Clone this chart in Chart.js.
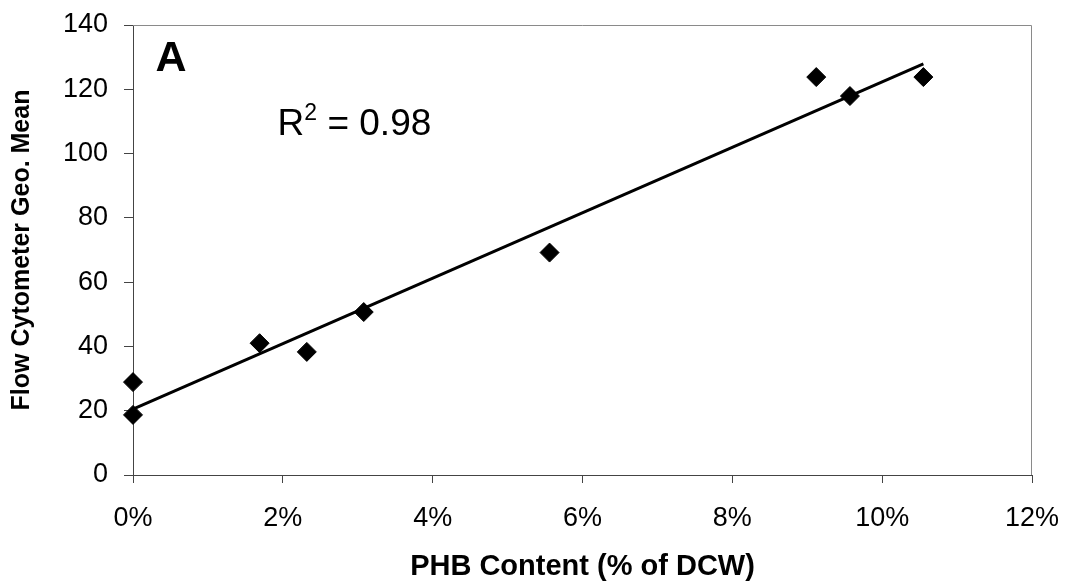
<!DOCTYPE html>
<html>
<head>
<meta charset="utf-8">
<script src="https://cdn.jsdelivr.net/npm/chart.js@4/dist/chart.umd.min.js"></script>
<style>
  html, body { margin: 0; padding: 0; background: #fff; }
  #wrap { width: 1065px; height: 584px; }
</style>
</head>
<body>
<div id="wrap"><canvas id="chart"></canvas></div>
<script>
// PHB content (% of DCW) vs flow cytometer geometric mean, panel A

const phbPct  = [0, 0, 1.69, 2.32, 3.08, 5.56, 9.12, 9.57, 10.55];
const geoMean = [18.7, 28.9, 41.0, 38.3, 50.7, 69.2, 123.8, 117.9, 123.8];

// trendline ends
const trendX = [0, 10.55];
const trendY = [20.5, 127.9];

const xTicks = [0, 2, 4, 6, 8, 10, 12];
const yTicks = [0, 20, 40, 60, 80, 100, 120, 140];

const panelLabel = "A";
const r2Text = "0.98";

const FONT = "'Liberation Sans', Arial, sans-serif";
Chart.defaults.font.family = FONT;
Chart.defaults.color = "#000";

const points = phbPct.map((x, i) => ({ x: x, y: geoMean[i] }));
const trend = trendX.map((x, i) => ({ x: x, y: trendY[i] }));

// top/right frame of plot area + text labels placed in data coords
const framePlugin = {
  id: "frame",
  beforeDatasetsDraw(ch) {
    const a = ch.chartArea, c = ch.ctx;
    c.save();
    c.strokeStyle = "#8a8a8a";
    c.lineWidth = 1;
    c.beginPath();
    c.moveTo(a.left, a.top + 0.5);
    c.lineTo(a.right - 0.5, a.top + 0.5);
    c.lineTo(a.right - 0.5, a.bottom);
    c.stroke();
    c.restore();
  },
  afterDatasetsDraw(ch) {
    const xs = ch.scales.x, ys = ch.scales.y, c = ch.ctx;
    c.save();
    c.fillStyle = "#000";
    c.textBaseline = "alphabetic";
    c.textAlign = "left";

    c.font = "bold 43px " + FONT;
    c.fillText(panelLabel, xs.getPixelForValue(0.3), ys.getPixelForValue(125.7));

    let px = xs.getPixelForValue(1.93);
    const py = ys.getPixelForValue(105.8);
    c.font = "37px " + FONT;
    c.fillText("R", px, py);
    px += c.measureText("R").width;
    c.font = "23px " + FONT;
    c.fillText("2", px, py - 15);
    px += c.measureText("2").width;
    c.font = "37px " + FONT;
    c.fillText(" = " + r2Text, px, py);
    c.restore();
  }
};

new Chart(document.getElementById("chart"), {
  type: "scatter",
  data: {
    datasets: [
      {
        type: "line",
        data: trend,
        borderColor: "#000",
        borderWidth: 3,
        pointRadius: 0,
        fill: false,
        clip: false
      },
      {
        data: points,
        pointStyle: "rectRot",
        pointRadius: 9.5,
        pointBackgroundColor: "#000",
        pointBorderColor: "#000",
        pointBorderWidth: 1,
        clip: false
      }
    ]
  },
  options: {
    responsive: true,
    maintainAspectRatio: false,
    animation: false,
    layout: { padding: { left: 7, top: 25, right: 33, bottom: 0 } },
    plugins: { legend: { display: false }, tooltip: { enabled: false } },
    scales: {
      x: {
        type: "linear",
        min: 0,
        max: 12,
        afterBuildTicks: s => { s.ticks = xTicks.map(v => ({ value: v })); },
        afterFit: s => { s.height = 109; s.paddingLeft = 0; s.paddingRight = 0; },
        ticks: {
          font: { size: 27 },
          padding: 19,
          callback: v => v + "%"
        },
        grid: { drawOnChartArea: false, drawTicks: true, tickLength: 8, color: "#444" },
        border: { color: "#444", width: 1 },
        title: {
          display: true,
          text: "PHB Content (% of DCW)",
          font: { size: 29, weight: "bold" },
          padding: 0
        }
      },
      y: {
        min: 0,
        max: 140,
        afterBuildTicks: s => { s.ticks = yTicks.map(v => ({ value: v })); },
        afterFit: s => { s.width = 126; s.paddingTop = 0; s.paddingBottom = 0; },
        ticks: { font: { size: 27 }, padding: 16 },
        grid: { drawOnChartArea: false, drawTicks: true, tickLength: 9, color: "#444" },
        border: { color: "#444", width: 1 },
        title: {
          display: true,
          text: "Flow Cytometer Geo. Mean",
          font: { size: 25, weight: "bold" },
          padding: 0
        }
      }
    }
  },
  plugins: [framePlugin]
});
</script>
</body>
</html>
